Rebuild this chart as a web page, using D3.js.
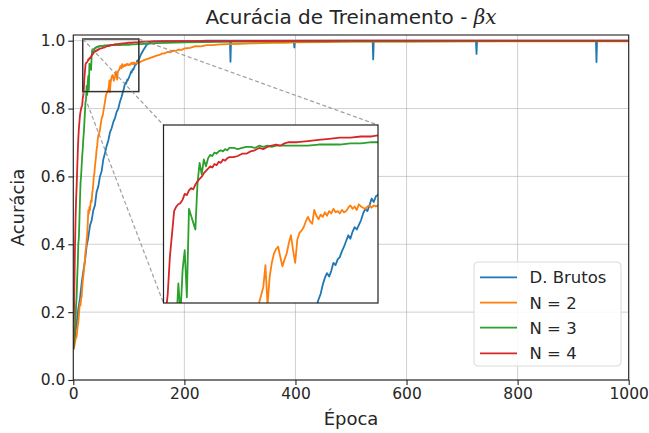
<!DOCTYPE html>
<html>
<head>
<meta charset="utf-8">
<script src="https://cdn.jsdelivr.net/npm/d3@7"></script>
<style>
  html, body { margin: 0; padding: 0; background: #fff; }
  svg { display: block; }
  text { font-family: "DejaVu Sans", sans-serif; fill: #262626; }
</style>
</head>
<body>
<svg id="chart" width="649" height="433"></svg>
<script>
// ---------------- DATA ----------------
const titleText = "Acurácia de Treinamento - ";
const titleMath = "βx";
const xLabel = "Época";
const yLabel = "Acurácia";
const xTicks = [0, 200, 400, 600, 800, 1000];
const yTicks = [0.0, 0.2, 0.4, 0.6, 0.8, 1.0];
const seriesNames = ["D. Brutos", "N = 2", "N = 3", "N = 4"];
const seriesColors = ["#1f77b4", "#ff7f0e", "#2ca02c", "#d62728"];

// D. Brutos
const brutosEpochs = [0,3,6,9,12,15,18,21,24,27,30,33,36,39,42,45,48,51,54,57,60,63,66,69,72,75,78,81,84,87,90,91,92,93,94,95,96,97,98,99,100,101,102,103,104,105,106,107,108,109,110,111,112,113,114,115,116,117,118,120,122,124,126,128,130,132,134,136,138,140,145,150,160,170,180,200,220,240,260,280,282,283,284,300,330,360,397,398,399,420,450,480,510,539,540,541,560,600,650,700,725,726,727,760,800,850,900,941,942,943,960,1000];
const brutosValues = [0.09,0.13,0.165,0.21,0.24,0.285,0.32,0.35,0.395,0.42,0.455,0.47,0.50,0.515,0.555,0.57,0.60,0.615,0.65,0.668,0.69,0.705,0.73,0.742,0.76,0.772,0.79,0.80,0.82,0.835,0.853,0.858,0.866,0.872,0.876,0.873,0.878,0.885,0.883,0.888,0.89,0.895,0.899,0.904,0.909,0.906,0.912,0.916,0.914,0.918,0.922,0.928,0.932,0.93,0.935,0.941,0.938,0.943,0.944,0.952,0.96,0.966,0.972,0.977,0.982,0.987,0.99,0.993,0.995,0.997,0.998,0.998,0.999,0.999,0.999,0.999,0.999,1.0,1.0,1.0,1.0,0.938,1.0,1.0,1.0,1.0,1.0,0.98,1.0,1.0,1.0,1.0,1.0,1.0,0.945,1.0,1.0,1.0,1.0,1.0,1.0,0.961,1.0,1.0,1.0,1.0,1.0,1.0,0.937,1.0,1.0,1.0];

// N = 2
const n2Epochs = [0,2,4,6,8,9,10,11,12,13,14,15,16,17,18,19,20,21,22,23,24,25,26,27,28,29,30,31,32,33,34,35,36,37,38,39,40,41,42,43,44,45,46,47,48,49,50,51,52,53,54,55,56,57,58,59,60,61,62,63,64,65,66,67,68,69,70,71,72,73,74,75,76,77,78,79,80,81,82,83,84,85,86,87,88,89,90,91,92,93,94,95,96,97,98,99,100,101,102,103,104,105,106,107,108,109,110,111,112,113,114,115,116,117,118,120,125,130,135,140,145,150,155,160,165,170,175,180,185,190,195,200,210,220,230,240,250,265,280,300,320,340,360,380,400,450,500,600,700,800,900,1000];
const n2Values = [0.09,0.10,0.12,0.128,0.16,0.168,0.19,0.21,0.227,0.22,0.24,0.245,0.27,0.29,0.305,0.32,0.34,0.354,0.38,0.39,0.413,0.43,0.46,0.50,0.49,0.51,0.50,0.52,0.53,0.525,0.55,0.56,0.58,0.60,0.61,0.63,0.645,0.66,0.68,0.69,0.71,0.72,0.725,0.73,0.737,0.75,0.76,0.77,0.775,0.78,0.79,0.80,0.81,0.82,0.83,0.84,0.845,0.848,0.85,0.857,0.864,0.883,0.848,0.873,0.885,0.893,0.897,0.899,0.89,0.882,0.888,0.893,0.902,0.909,0.896,0.885,0.905,0.911,0.913,0.916,0.921,0.925,0.921,0.919,0.931,0.926,0.923,0.927,0.925,0.929,0.926,0.93,0.928,0.932,0.929,0.93,0.928,0.931,0.929,0.93,0.933,0.935,0.932,0.934,0.931,0.936,0.934,0.933,0.932,0.934,0.935,0.933,0.935,0.934,0.935,0.937,0.941,0.944,0.947,0.95,0.953,0.956,0.958,0.962,0.963,0.967,0.966,0.971,0.97,0.974,0.973,0.977,0.979,0.984,0.983,0.987,0.987,0.989,0.99,0.991,0.992,0.993,0.994,0.994,0.995,0.996,0.997,0.997,0.998,0.998,0.998,0.998];

// N = 3
const n3Epochs = [0,1,2,3,4,5,6,7,8,9,10,11,12,13,14,15,16,17,18,19,20,21,22,23,24,25,26,27,28,29,30,31,32,33,34,35,36,37,38,39,40,41,42,43,44,45,46,47,48,50,52,54,56,58,60,62,64,66,68,70,75,80,85,90,95,100,105,110,115,118,130,150,200,300,400,600,800,1000];
const n3Values = [0.09,0.10,0.12,0.15,0.17,0.22,0.245,0.30,0.34,0.40,0.42,0.47,0.53,0.58,0.60,0.63,0.66,0.68,0.71,0.73,0.76,0.79,0.82,0.83,0.867,0.84,0.879,0.896,0.855,0.932,0.926,0.92,0.914,0.954,0.972,0.962,0.975,0.969,0.976,0.979,0.978,0.981,0.98,0.982,0.983,0.982,0.984,0.983,0.985,0.985,0.984,0.985,0.986,0.986,0.985,0.987,0.986,0.987,0.986,0.987,0.987,0.987,0.987,0.988,0.988,0.988,0.989,0.989,0.99,0.99,0.991,0.993,0.995,0.997,0.998,0.998,0.999,0.999];

// N = 4
const n4Epochs = [0,1,2,3,4,5,6,7,8,9,10,11,12,13,14,15,16,17,18,19,20,21,22,23,24,25,26,27,28,29,30,31,32,33,34,35,36,37,38,39,40,41,42,43,44,45,46,47,48,50,52,54,56,58,60,62,64,66,68,70,72,74,76,78,80,85,90,95,100,105,110,115,118,130,150,200,300,500,1000];
const n4Values = [0.09,0.17,0.28,0.39,0.47,0.53,0.57,0.62,0.67,0.71,0.74,0.76,0.78,0.79,0.80,0.805,0.81,0.83,0.84,0.858,0.89,0.91,0.93,0.934,0.936,0.937,0.94,0.945,0.944,0.948,0.95,0.949,0.953,0.956,0.958,0.96,0.963,0.965,0.967,0.969,0.968,0.971,0.97,0.973,0.972,0.975,0.974,0.976,0.977,0.977,0.978,0.98,0.98,0.982,0.983,0.985,0.984,0.986,0.987,0.988,0.987,0.989,0.99,0.99,0.99,0.991,0.992,0.993,0.994,0.994,0.995,0.995,0.996,0.997,0.998,0.999,0.999,1.0,1.0];

const insetXDomain = [17, 118];
const insetYDomain = [0.85, 1.005];

// ---------------- CHART ----------------
const series = [
  { name: seriesNames[0], color: seriesColors[0], x: brutosEpochs, y: brutosValues },
  { name: seriesNames[1], color: seriesColors[1], x: n2Epochs, y: n2Values },
  { name: seriesNames[2], color: seriesColors[2], x: n3Epochs, y: n3Values },
  { name: seriesNames[3], color: seriesColors[3], x: n4Epochs, y: n4Values }
].map(s => ({ ...s, pts: s.x.map((e, i) => [e, s.y[i]]) }));

const svg = d3.select("#chart");
const L = 73.3, R = 628.7, T = 35, B = 380;
const x = d3.scaleLinear().domain([0, 1000]).range([L, R]);
const y = d3.scaleLinear().domain([0, 1.0168]).range([B, T]);

const defs = svg.append("defs");
defs.append("clipPath").attr("id", "mainClip")
  .append("rect").attr("x", L).attr("y", T).attr("width", R - L).attr("height", B - T);

// grid
const grid = svg.append("g");
grid.selectAll(".gx").data(xTicks).join("line")
  .attr("x1", d => x(d)).attr("x2", d => x(d)).attr("y1", T).attr("y2", B)
  .attr("stroke", "#b0b0b0").attr("stroke-opacity", 0.6).attr("stroke-width", 1);
grid.selectAll(".gy").data(yTicks).join("line")
  .attr("x1", L).attr("x2", R).attr("y1", d => y(d)).attr("y2", d => y(d))
  .attr("stroke", "#b0b0b0").attr("stroke-opacity", 0.6).attr("stroke-width", 1);

// main lines
const line = d3.line().x(d => x(d[0])).y(d => y(d[1]));
const mainG = svg.append("g").attr("clip-path", "url(#mainClip)");
series.forEach(s => {
  mainG.append("path").datum(s.pts).attr("d", line)
    .attr("fill", "none").attr("stroke", s.color).attr("stroke-width", 1.8)
    .attr("stroke-linejoin", "round");
});

// inset geometry
const iL = 163.5, iR = 378, iT = 125, iB = 303;
const xi = d3.scaleLinear().domain(insetXDomain).range([iL, iR]);
const yi = d3.scaleLinear().domain(insetYDomain).range([iB, iT]);

// indicator rectangle
const rx0 = x(insetXDomain[0]), rx1 = x(insetXDomain[1]);
const ry0 = y(insetYDomain[1]), ry1 = y(insetYDomain[0]);
svg.append("rect").attr("x", rx0).attr("y", ry0).attr("width", rx1 - rx0).attr("height", ry1 - ry0)
  .attr("fill", "none").attr("stroke", "#333").attr("stroke-width", 1.5);

// connectors
const conn = [[rx0, ry0, iL, iT], [rx1, ry0, iR, iT], [rx0, ry1, iL, iB]];
svg.selectAll(".conn").data(conn).join("line")
  .attr("x1", d => d[0]).attr("y1", d => d[1]).attr("x2", d => d[2]).attr("y2", d => d[3])
  .attr("stroke", "#888").attr("stroke-width", 1.2).attr("stroke-dasharray", "4,2.5").attr("opacity", 0.8);

// inset
defs.append("clipPath").attr("id", "insetClip")
  .append("rect").attr("x", iL).attr("y", iT).attr("width", iR - iL).attr("height", iB - iT);
svg.append("rect").attr("x", iL).attr("y", iT).attr("width", iR - iL).attr("height", iB - iT).attr("fill", "#fff");
const lineI = d3.line().x(d => xi(d[0])).y(d => yi(d[1]));
const insetG = svg.append("g").attr("clip-path", "url(#insetClip)");
series.forEach(s => {
  insetG.append("path").datum(s.pts.filter(p => p[0] <= 125)).attr("d", lineI)
    .attr("fill", "none").attr("stroke", s.color).attr("stroke-width", 1.8)
    .attr("stroke-linejoin", "round");
});
svg.append("rect").attr("x", iL).attr("y", iT).attr("width", iR - iL).attr("height", iB - iT)
  .attr("fill", "none").attr("stroke", "#222").attr("stroke-width", 1.2);

// spines
svg.append("rect").attr("x", L).attr("y", T).attr("width", R - L).attr("height", B - T)
  .attr("fill", "none").attr("stroke", "#222").attr("stroke-width", 1.1);

// axes
const xAxis = d3.axisBottom(x).tickValues(xTicks).tickSize(5).tickPadding(3).tickFormat(d3.format("d"));
const yAxis = d3.axisLeft(y).tickValues(yTicks).tickSize(5).tickPadding(3).tickFormat(d3.format(".1f"));
const gx = svg.append("g").attr("transform", `translate(0,${B})`).call(xAxis);
const gy = svg.append("g").attr("transform", `translate(${L},0)`).call(yAxis);
[gx, gy].forEach(g => {
  g.select(".domain").remove();
  g.selectAll(".tick line").attr("stroke", "#222").attr("stroke-width", 1.1);
  g.selectAll(".tick text").style("font-size", "15.5px").attr("fill", "#262626");
});

// legend
const lg = svg.append("g");
lg.append("rect").attr("x", 474).attr("y", 262).attr("width", 147).attr("height", 104)
  .attr("rx", 4).attr("fill", "#fff").attr("fill-opacity", 0.85)
  .attr("stroke", "#d9d9d9").attr("stroke-width", 1);
const rowY = [277.3, 302.7, 327.7, 353.3];
series.forEach((s, i) => {
  lg.append("line").attr("x1", 480).attr("x2", 517).attr("y1", rowY[i]).attr("y2", rowY[i])
    .attr("stroke", s.color).attr("stroke-width", 1.8);
  lg.append("text").attr("x", 529.5).attr("y", rowY[i]).attr("dy", "0.36em")
    .style("font-size", "16.5px").text(s.name);
});

// title
const title = svg.append("text").attr("x", (L + R) / 2).attr("y", 24)
  .attr("text-anchor", "middle").style("font-size", "20px");
title.append("tspan").text(titleText);
title.append("tspan").style("font-family", "'DejaVu Serif', serif").style("font-style", "italic").text(titleMath);

// axis labels
svg.append("text").attr("x", (L + R) / 2).attr("y", 425).attr("text-anchor", "middle")
  .style("font-size", "18px").text(xLabel);
svg.append("text").attr("transform", `translate(24,${(T + B) / 2}) rotate(-90)`)
  .attr("text-anchor", "middle").style("font-size", "18px").text(yLabel);
</script>
</body>
</html>
